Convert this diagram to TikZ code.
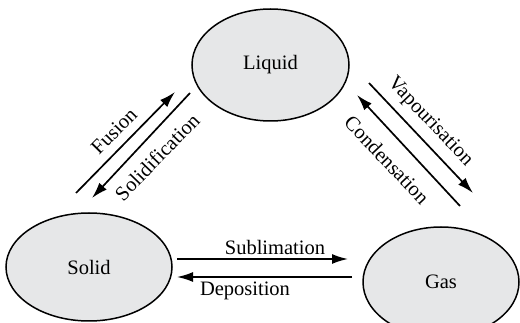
\documentclass[tikz,border=0pt]{standalone}
\usepackage{fontspec}
\setmainfont{Liberation Serif}
\usetikzlibrary{shapes.geometric,arrows.meta}
\definecolor{statefill}{HTML}{E6E7E8}
\begin{document}
\begin{tikzpicture}[x=1pt,y=-1pt,
  state/.style={ellipse,draw=black,line width=1.5pt,fill=statefill,inner sep=0pt,font=\fontsize{20.5}{24}\selectfont},
  lbl/.style={font=\fontsize{20.5}{24}\selectfont,inner sep=0pt},
  flow/.style={line width=1.7pt,-{Latex[length=16pt,width=10pt]}}]
\useasboundingbox (0,0) rectangle (520,323);
\node[state,minimum width=157pt,minimum height=112pt] (liquid) at (270.5,65) {Liquid};
\node[state,minimum width=166pt,minimum height=108pt] (solid) at (89,267) {Solid};
\node[state,minimum width=156pt,minimum height=110pt] (gas) at (441,282) {Gas};
% endpoints
\coordinate (fa) at (76,193); \coordinate (fb) at (175,92);
\coordinate (sa) at (190,93); \coordinate (sb) at (92,198);
\coordinate (va) at (369,83); \coordinate (vb) at (473,193);
\coordinate (ca) at (460,206); \coordinate (cb) at (357,95);
\coordinate (ua) at (177,259); \coordinate (ub) at (348,259);
\coordinate (da) at (352,277); \coordinate (db) at (177,277);
\draw[flow] (fa) -- (fb);
\draw[flow] (sa) -- (sb);
\draw[flow] (va) -- (vb);
\draw[flow] (ca) -- (cb);
\draw[flow] (ua) -- (ub);
\draw[flow] (da) -- (db);
\node[lbl,rotate=45.5] (tfus) at (114,131) {Fusion};
\node[lbl,rotate=46] (tsol) at (157,157) {Solidification};
\node[lbl,rotate=-46.5] (tvap) at (430,122) {Vapourisation};
\node[lbl,rotate=-46.5] (tcon) at (387,160) {Condensation};
\node[lbl] (tsub) at (275,247) {Sublimation};
\node[lbl] (tdep) at (245,291) {Deposition};
\end{tikzpicture}
\end{document}
